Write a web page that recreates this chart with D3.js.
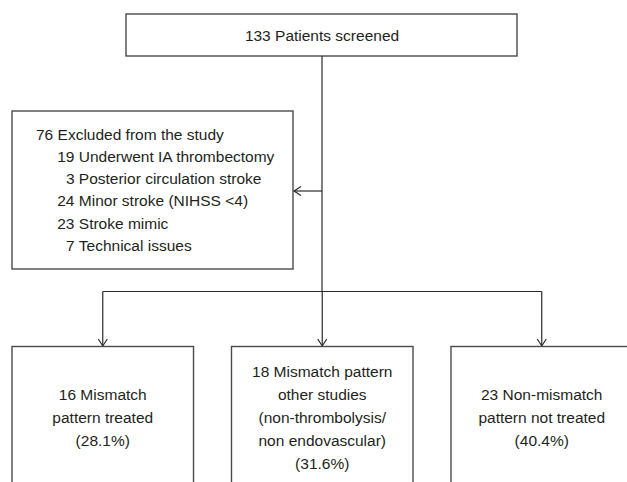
<!DOCTYPE html>
<html>
<head>
<meta charset="utf-8">
<script src="https://d3js.org/d3.v7.min.js"></script>
<style>
    body { margin: 0; background: #fff; }
    text { font-family: "Liberation Sans", Arial, sans-serif; font-size: 15.5px; fill: #231f20; }
</style>
</head>
<body>
<svg id="chart"></svg>
<script>
    // flowchart contents
    const screenedLabel = "133 Patients screened";
    const excludedCount = 76;
    const excludedLabel = "Excluded from the study";
    const exclusionCounts = [19, 3, 24, 23, 7];
    const exclusionReasons = [
        "Underwent IA thrombectomy",
        "Posterior circulation stroke",
        "Minor stroke (NIHSS <4)",
        "Stroke mimic",
        "Technical issues"
    ];
    const groups = ["treated", "other", "untreated"];
    const groupLines = [
        ["16 Mismatch", "pattern treated", "(28.1%)"],
        ["18 Mismatch pattern", "other studies", "(non-thrombolysis/", "non endovascular)", "(31.6%)"],
        ["23 Non-mismatch", "pattern not treated", "(40.4%)"]
    ];

    const width = 627, height = 482;
    const lineColor = "#2a2a2a", boxColor = "#4a4a4a";

    const svg = d3.select("#chart").attr("width", width).attr("height", height);

    // layout
    const spineX = 322;
    const topBox = { x0: 126, x1: 517, y0: 14, y1: 56 };
    const excl = { x0: 12, x1: 293, y0: 111, y1: 269 };
    const branchY = 291.5;
    const groupTop = 346.5, groupBottom = 492;

    const xBand = d3.scaleBand().domain(groups).range([12, 632.5]).paddingInner(0.173);
    const cx = g => xBand(g) + xBand.bandwidth() / 2;

    const box = (x0, y0, x1, y1) => svg.append("rect")
        .attr("x", x0).attr("y", y0)
        .attr("width", x1 - x0).attr("height", y1 - y0)
        .attr("fill", "none").attr("stroke", boxColor).attr("stroke-width", 1.4);

    const line = pts => svg.append("path")
        .attr("d", d3.line()(pts))
        .attr("fill", "none").attr("stroke", lineColor).attr("stroke-width", 1.2);

    // open arrow head pointing along (dx,dy)
    const arrowHead = (x, y, dx, dy) => {
        const len = 7, half = 4.5;
        const px = -dy, py = dx;
        line([[x - dx * len + px * half, y - dy * len + py * half], [x, y],
              [x - dx * len - px * half, y - dy * len - py * half]]);
    };

    // top box
    box(topBox.x0, topBox.y0, topBox.x1, topBox.y1);
    svg.append("text").attr("x", spineX).attr("y", 40.5)
        .attr("text-anchor", "middle").text(screenedLabel);

    // main spine
    line([[spineX, topBox.y1], [spineX, branchY]]);

    // exclusion box
    box(excl.x0, excl.y0, excl.x1, excl.y1);
    const arrowY = (excl.y0 + excl.y1) / 2 + 1;
    line([[spineX, arrowY], [excl.x1 + 1, arrowY]]);
    arrowHead(excl.x1 + 1, arrowY, -1, 0);

    const lineStep = 22.3;
    const firstBase = 139.5;
    svg.append("text").attr("x", 36).attr("y", firstBase)
        .text(excludedCount + " " + excludedLabel);
    const numRight = 74.5;
    const reasons = svg.append("g");
    reasons.selectAll("text.num").data(exclusionCounts).join("text")
        .attr("class", "num")
        .attr("x", numRight)
        .attr("y", (d, i) => firstBase + lineStep * (i + 1))
        .attr("text-anchor", "end")
        .text(d => d);
    reasons.selectAll("text.reason").data(exclusionReasons).join("text")
        .attr("class", "reason")
        .attr("x", numRight + 4.3)
        .attr("y", (d, i) => firstBase + lineStep * (i + 1))
        .text(d => d);

    // branch line and arrows to the groups
    line([[cx(groups[0]), branchY], [cx(groups[groups.length - 1]), branchY]]);
    groups.forEach(g => {
        line([[cx(g), branchY], [cx(g), groupTop - 0.5]]);
        arrowHead(cx(g), groupTop - 0.5, 0, 1);
    });

    // group boxes
    const groupStep = 23;
    const groupMid = 423;
    groups.forEach((g, gi) => {
        box(xBand(g), groupTop, xBand(g) + xBand.bandwidth(), groupBottom);
        const lines = groupLines[gi];
        svg.append("g").selectAll("text").data(lines).join("text")
            .attr("x", cx(g))
            .attr("y", (d, i) => groupMid + (i - (lines.length - 1) / 2) * groupStep)
            .attr("text-anchor", "middle")
            .text(d => d);
    });
</script>
</body>
</html>
